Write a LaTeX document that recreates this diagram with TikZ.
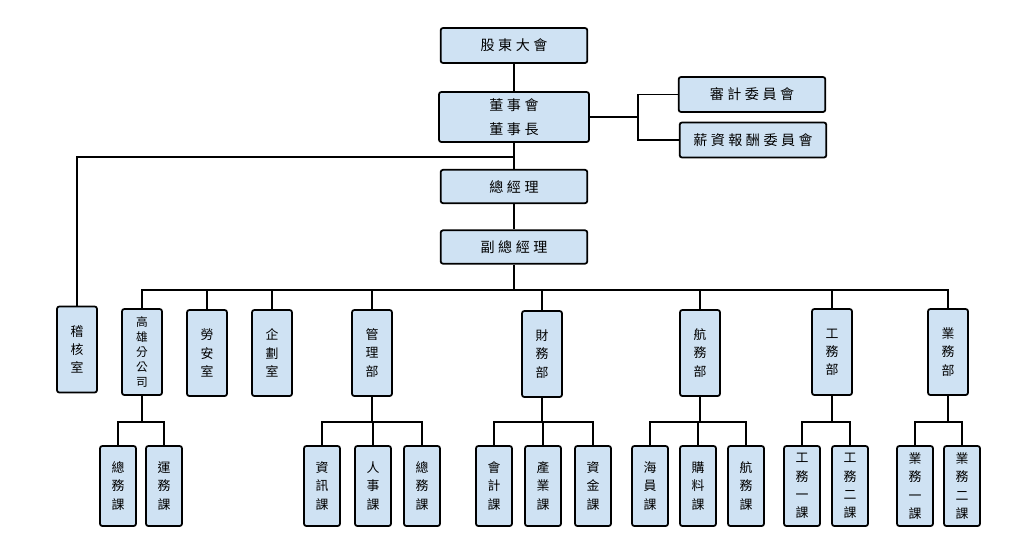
\documentclass[tikz,border=0pt]{standalone}
\usepackage{fontspec}
\setmainfont{Noto Sans CJK TC}
\newfontfamily\cjkwide[LetterSpace=25]{Noto Sans CJK TC}
\definecolor{boxblue}{RGB}{207,226,243}
\begin{document}
\begin{tikzpicture}[x=0.03cm, y=-0.03cm, line width=1.3pt,
	wide/.style={draw, fill=boxblue, rounded corners=2pt, line width=1.5pt, minimum width=4.4cm, minimum height=1.05cm, align=center, font=\cjkwide\fontsize{12}{20}\selectfont},
	dept/.style={draw, fill=boxblue, rounded corners=2pt, line width=1.5pt, minimum width=1.2cm, minimum height=2.58cm, align=center, inner sep=0pt, font=\fontsize{11}{15.5}\selectfont},
	unit/.style={dept, minimum width=1.08cm, minimum height=2.4cm}]
	\useasboundingbox (0,0) rectangle (1024,547);
	\node[wide] (gm) at (514,45.5) {股東大會};
	\node[wide, minimum width=4.5cm, minimum height=1.5cm] (board) at (514,117) {董事會\\董事長};
	\node[wide] (audit) at (752,94.5) {審計委員會};
	\node[wide] (pay) at (753,140) {薪資報酬委員會};
	\node[wide, minimum height=1cm] (ceo) at (514,186.5) {總經理};
	\node[wide, minimum height=1cm] (vp) at (514,247) {副總經理};
	\node[dept] (jh) at (77,349.5) {稽\\核\\室};
	\node[dept, font=\fontsize{10}{12.7}\selectfont] (kh) at (142,352) {高\\雄\\分\\公\\司};
	\node[dept] (la) at (207,353) {勞\\安\\室};
	\node[dept] (qh) at (272,353) {企\\劃\\室};
	\node[dept] (gl) at (372,353) {管\\理\\部};
	\node[dept] (cw) at (542,354) {財\\務\\部};
	\node[dept] (hw) at (700,353) {航\\務\\部};
	\node[dept] (gw) at (832,352) {工\\務\\部};
	\node[dept] (yw) at (948,352) {業\\務\\部};
	\node[unit] (kh1) at (118,486) {總\\務\\課};
	\node[unit] (kh2) at (164,486) {運\\務\\課};
	\node[unit] (gl1) at (322,486) {資\\訊\\課};
	\node[unit] (gl2) at (373,486) {人\\事\\課};
	\node[unit] (gl3) at (422,486) {總\\務\\課};
	\node[unit] (cw1) at (494,486) {會\\計\\課};
	\node[unit] (cw2) at (543,486) {產\\業\\課};
	\node[unit] (cw3) at (593,486) {資\\金\\課};
	\node[unit] (hw1) at (650,486) {海\\員\\課};
	\node[unit] (hw2) at (698,486) {購\\料\\課};
	\node[unit] (hw3) at (746,486) {航\\務\\課};
	\node[unit] (gw1) at (802,486) {工\\務\\一\\課};
	\node[unit] (gw2) at (850,486) {工\\務\\二\\課};
	\node[unit] (yw1) at (915,486) {業\\務\\一\\課};
	\node[unit] (yw2) at (962,486) {業\\務\\二\\課};
	\coordinate (sp) at (638,117);
	\coordinate (aj) at (514,157);
	\coordinate (bus) at (514,290);
	\coordinate (lv) at (0,422);
	\draw (gm) -- (board);
	\draw (board.east) -- (sp) |- (audit.west);
	\draw (sp) |- (pay.west);
	\draw (board) -- (ceo);
	\draw (aj) -| (jh.north);
	\draw (ceo) -- (vp);
	\draw (vp) -- (bus);
	\foreach \n in {kh,la,qh,gl,cw,hw,gw,yw}
		\draw (bus) -| (\n.north);
	\draw (kh) -- (kh |- lv) coordinate (khb);
	\foreach \c in {kh1,kh2}
		\draw (khb) -| (\c.north);
	\draw (gl) -- (gl |- lv) coordinate (glb);
	\foreach \c in {gl1,gl2,gl3}
		\draw (glb) -| (\c.north);
	\draw (cw) -- (cw |- lv) coordinate (cwb);
	\foreach \c in {cw1,cw2,cw3}
		\draw (cwb) -| (\c.north);
	\draw (hw) -- (hw |- lv) coordinate (hwb);
	\foreach \c in {hw1,hw2,hw3}
		\draw (hwb) -| (\c.north);
	\draw (gw) -- (gw |- lv) coordinate (gwb);
	\foreach \c in {gw1,gw2}
		\draw (gwb) -| (\c.north);
	\draw (yw) -- (yw |- lv) coordinate (ywb);
	\foreach \c in {yw1,yw2}
		\draw (ywb) -| (\c.north);
\end{tikzpicture}
\end{document}
